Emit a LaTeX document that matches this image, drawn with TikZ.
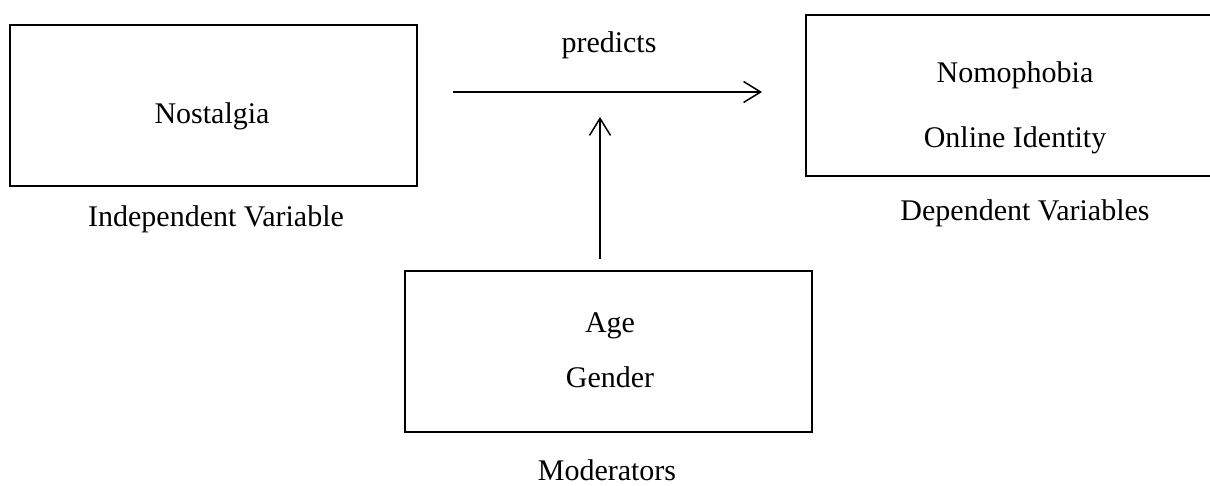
\documentclass[tikz,border=0pt]{standalone}
\usepackage{fontspec}
\setmainfont{Liberation Serif}
\usetikzlibrary{arrows.meta}
\begin{document}
\begin{tikzpicture}[x=1pt,y=-1pt,
  box/.style={draw=black, line width=2pt, rectangle, inner sep=0pt},
  lbl/.style={anchor=base, inner sep=0pt, font=\fontsize{30}{36}\selectfont},
  conn/.style={line width=1.5pt, -{Straight Barb[length=17pt,width=21pt,line width=1.5pt]}}]
\useasboundingbox (0,0) rectangle (1210,486);
% boxes
\node[box, minimum width=407pt, minimum height=161pt] (iv) at (213.5,105.5) {};
\node[box, minimum width=418pt, minimum height=161pt] (dv) at (1015,95.5) {};
\node[box, minimum width=407pt, minimum height=161pt] (mod) at (608.5,351.5) {};
% texts
\node[lbl] (ivt) at (212,124) {Nostalgia};
\node[lbl] (ivl) at (216,227) {Independent Variable};
\node[lbl] (dvt1) at (1015,83) {Nomophobia};
\node[lbl] (dvt2) at (1015,148) {Online Identity};
\node[lbl] (dvl) at (1025,221) {Dependent Variables};
\node[lbl] (modt1) at (610,332) {Age};
\node[lbl] (modt2) at (610,387) {Gender};
\node[lbl] (modl) at (607,480) {Moderators};
\node[lbl] (pred) at (609,53) {predicts};
% connectors
\coordinate (hs) at (453,92);
\coordinate (he) at (762,92);
\coordinate (vs) at (600,259);
\coordinate (ve) at (600,117);
\draw[conn] (hs) -- (he);
\draw[conn] (vs) -- (ve);
\end{tikzpicture}
\end{document}
